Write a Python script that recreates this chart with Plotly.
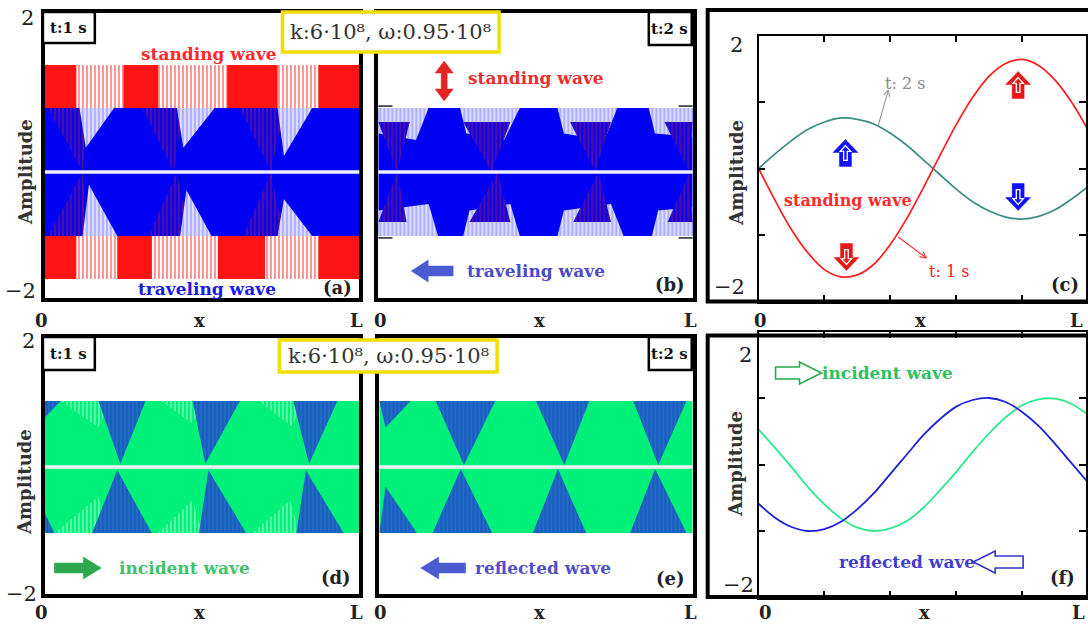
import math
import plotly.graph_objects as go

W, H = 1088, 625


def PX(x):
    return x / W


def PY(y):
    return 1 - y / H


SERIF = "DejaVu Serif"

# ---------------- data ----------------
# x positions in units of L for the smooth snapshots, panels (c) and (f)
X_L = [0.00, 0.05, 0.10, 0.15, 0.20, 0.25, 0.30, 0.35, 0.40, 0.45, 0.50,
       0.55, 0.60, 0.65, 0.70, 0.75, 0.80, 0.85, 0.90, 0.95, 1.00]
C_STANDING_T1 = [0.00, -0.48, -0.92, -1.27, -1.52, -1.63, -1.60, -1.44, -1.14, -0.75, -0.29,
                 0.19, 0.66, 1.07, 1.39, 1.58, 1.64, 1.55, 1.33, 1.00, 0.58]
C_STANDING_T2 = [0.00, 0.22, 0.42, 0.59, 0.70, 0.76, 0.74, 0.67, 0.53, 0.35, 0.13,
                 -0.09, -0.31, -0.50, -0.64, -0.73, -0.76, -0.72, -0.62, -0.46, -0.27]
F_INCIDENT = [0.53, 0.25, -0.04, -0.34, -0.60, -0.81, -0.95, -1.00, -0.96, -0.85, -0.65,
              -0.39, -0.11, 0.19, 0.47, 0.71, 0.89, 0.98, 0.99, 0.91, 0.75]
F_REFLECTED = [-0.59, -0.80, -0.94, -1.00, -0.97, -0.86, -0.67, -0.43, -0.14, 0.15, 0.44,
               0.68, 0.87, 0.97, 1.00, 0.94, 0.79, 0.58, 0.31, 0.02, -0.27]

# dense sampled panels: envelopes / regions (x in units of L, amplitude)
A_STANDING_AMP = 1.67
A_TRAVEL_AMP = 1.00
A_SOLID_TOP = [(0.00, 0.10), (0.25, 0.36), (0.58, 0.74), (0.87, 1.00)]
A_SOLID_BOT = [(0.00, 0.10), (0.23, 0.34), (0.55, 0.70), (0.87, 1.00)]
A_PURPLE = [[(0.01, 1), (0.14, 1), (0.12, 0)], [(0.31, 1), (0.44, 1), (0.41, 0)],
            [(0.62, 1), (0.76, 1), (0.72, 0)],
            [(0.01, -1), (0.14, -1), (0.12, 0)], [(0.33, -1), (0.46, -1), (0.42, 0)],
            [(0.63, -1), (0.76, -1), (0.72, 0)]]
A_LIGHT = [[(0.11, 1), (0.22, 1), (0.13, 0.38)], [(0.42, 1), (0.54, 1), (0.44, 0.38)],
           [(0.74, 1), (0.85, 1), (0.76, 0.25)],
           [(0.12, -1), (0.23, -1), (0.14, -0.20)], [(0.43, -1), (0.53, -1), (0.45, -0.28)],
           [(0.74, -1), (0.85, -1), (0.76, -0.42)]]

B_TRAVEL_AMP = 1.00
B_LIGHT = [[(0.00, 1), (0.16, 1), (0.12, 0.50), (0.00, 0.60)],
           [(0.26, 1), (0.45, 1), (0.40, 0.50), (0.28, 0.60)],
           [(0.57, 1), (0.76, 1), (0.72, 0.50), (0.59, 0.60)],
           [(0.86, 1), (1.00, 1), (1.00, 0.55), (0.88, 0.60)],
           [(0.00, -1), (0.19, -1), (0.16, -0.50), (0.00, -0.60)],
           [(0.27, -1), (0.45, -1), (0.42, -0.50), (0.29, -0.60)],
           [(0.57, -1), (0.78, -1), (0.74, -0.50), (0.59, -0.60)],
           [(0.87, -1), (1.00, -1), (1.00, -0.55), (0.89, -0.60)]]
B_PURPLE = [[(0.00, 0.78), (0.10, 0.78), (0.06, 0)], [(0.27, 0.78), (0.42, 0.78), (0.36, 0)],
            [(0.61, 0.78), (0.74, 0.78), (0.69, 0)], [(0.91, 0.78), (1.00, 0.78), (0.99, 0)],
            [(0.00, -0.78), (0.09, -0.78), (0.06, 0)], [(0.29, -0.78), (0.42, -0.78), (0.38, 0)],
            [(0.62, -0.78), (0.74, -0.78), (0.70, 0)], [(0.92, -0.78), (1.00, -0.78), (0.99, 0)]]

D_AMP = 1.00
D_DARK = [[(0.17, 1), (0.32, 1), (0.24, 0.05)], [(0.47, 1), (0.62, 1), (0.51, 0.05)],
          [(0.79, 1), (0.93, 1), (0.84, 0.05)], [(0.00, 1), (0.05, 1), (0.00, 0.75)],
          [(0.15, -1), (0.34, -1), (0.23, -0.05)], [(0.49, -1), (0.64, -1), (0.52, -0.05)],
          [(0.80, -1), (0.95, -1), (0.83, -0.05)], [(0.00, -1), (0.03, -1), (0.00, -0.70)]]
D_MINT = [[(0.05, 1), (0.21, 1), (0.17, 0.60)], [(0.37, 1), (0.50, 1), (0.47, 0.65)],
          [(0.68, 1), (0.81, 1), (0.79, 0.60)],
          [(0.03, -1), (0.20, -1), (0.17, -0.45)], [(0.36, -1), (0.50, -1), (0.47, -0.50)],
          [(0.66, -1), (0.81, -1), (0.78, -0.50)]]

E_AMP = 1.00
E_DARK = [[(0.00, 1), (0.10, 1), (0.02, 0.60)], [(0.18, 1), (0.37, 1), (0.27, 0.03)],
          [(0.50, 1), (0.67, 1), (0.59, 0.03)], [(0.81, 1), (0.98, 1), (0.89, 0.03)],
          [(0.00, -1), (0.12, -1), (0.02, -0.30)], [(0.17, -1), (0.36, -1), (0.26, -0.03)],
          [(0.49, -1), (0.66, -1), (0.57, -0.03)], [(0.80, -1), (0.98, -1), (0.88, -0.03)]]

# ---------------- styles ----------------
RED = "#ff1414"
BLUE = "#0000f2"
GREEN = "#00f07a"
PINK_PAT = ("#ff2a2a", "#ffffff", 0.5)
PURPLE_PAT = ("#9a1d5c", BLUE, 0.55)
LIGHT_PAT = ("#7c7cff", "#e2e2ff", 0.55)
DARK_PAT = ("#1440c4", "#2378c0", 0.72)
MINT_PAT = ("#b8ffdc", GREEN, 0.5)


def rect(x0, x1, y0, y1):
    return [(x0, y0), (x1, y0), (x1, y1), (x0, y1)]


def fill_trace(polys, n, color=None, pattern=None):
    xs, ys = [], []
    for poly in polys:
        for (x, y) in poly:
            xs.append(x)
            ys.append(y)
        xs.append(poly[0][0])
        ys.append(poly[0][1])
        xs.append(None)
        ys.append(None)
    suf = "" if n == 1 else str(n)
    kw = dict(x=xs, y=ys, mode="lines", line=dict(width=0), fill="toself",
              hoverinfo="skip", showlegend=False, xaxis="x" + suf, yaxis="y" + suf)
    if pattern:
        kw["fillcolor"] = pattern[1]
        kw["fillpattern"] = dict(shape="|", fgcolor=pattern[0], bgcolor=pattern[1],
                                 size=4, solidity=pattern[2])
    else:
        kw["fillcolor"] = color
    return go.Scatter(**kw)


fig = go.Figure()

# ---- (a)
fig.add_trace(fill_trace([rect(0, 1, -A_STANDING_AMP, A_STANDING_AMP)], 1, pattern=PINK_PAT))
fig.add_trace(fill_trace([rect(a, b, A_TRAVEL_AMP, A_STANDING_AMP) for a, b in A_SOLID_TOP] +
                         [rect(a, b, -A_STANDING_AMP, -A_TRAVEL_AMP) for a, b in A_SOLID_BOT], 1, color=RED))
fig.add_trace(fill_trace([rect(0, 1, -A_TRAVEL_AMP, A_TRAVEL_AMP)], 1, color=BLUE))
fig.add_trace(fill_trace(A_PURPLE, 1, pattern=PURPLE_PAT))
fig.add_trace(fill_trace(A_LIGHT, 1, pattern=LIGHT_PAT))

# ---- (b)
fig.add_trace(fill_trace([rect(0, 1, -B_TRAVEL_AMP, B_TRAVEL_AMP)], 2, color=BLUE))
fig.add_trace(fill_trace(B_LIGHT, 2, pattern=LIGHT_PAT))
fig.add_trace(fill_trace(B_PURPLE, 2, pattern=PURPLE_PAT))

# ---- (c)
fig.add_trace(go.Scatter(x=X_L, y=C_STANDING_T2, mode="lines", line=dict(color="#3c8c84", width=1.7, shape="spline"),
                         xaxis="x3", yaxis="y3", showlegend=False, hoverinfo="skip"))
fig.add_trace(go.Scatter(x=X_L, y=C_STANDING_T1, mode="lines", line=dict(color="#ff1e1e", width=1.7, shape="spline"),
                         xaxis="x3", yaxis="y3", showlegend=False, hoverinfo="skip"))

# ---- (d)
fig.add_trace(fill_trace([rect(0, 1, -D_AMP, D_AMP)], 4, color=GREEN))
fig.add_trace(fill_trace(D_MINT, 4, pattern=MINT_PAT))
fig.add_trace(fill_trace(D_DARK, 4, pattern=DARK_PAT))

# ---- (e)
fig.add_trace(fill_trace([rect(0, 1, -E_AMP, E_AMP)], 5, color=GREEN))
fig.add_trace(fill_trace(E_DARK, 5, pattern=DARK_PAT))

# ---- (f)
fig.add_trace(go.Scatter(x=X_L, y=F_INCIDENT, mode="lines", line=dict(color="#2de88c", width=1.8, shape="spline"),
                         xaxis="x6", yaxis="y6", showlegend=False, hoverinfo="skip"))
fig.add_trace(go.Scatter(x=X_L, y=F_REFLECTED, mode="lines", line=dict(color="#1f1fd8", width=1.8, shape="spline"),
                         xaxis="x6", yaxis="y6", showlegend=False, hoverinfo="skip"))

layout = dict(width=W, height=H, margin=dict(l=0, r=0, t=0, b=0),
              paper_bgcolor="white", plot_bgcolor="white", showlegend=False)


def box_axes(n, x0, x1, y0, y1, yr):
    suf = "" if n == 1 else str(n)
    common = dict(showline=True, mirror=True, linecolor="black", linewidth=4,
                  showticklabels=False, ticks="", showgrid=False, zeroline=False, fixedrange=True)
    layout["xaxis" + suf] = dict(domain=[PX(x0), PX(x1)], range=[0, 1], anchor="y" + suf, **common)
    layout["yaxis" + suf] = dict(domain=[PY(y1), PY(y0)], range=yr, anchor="x" + suf, **common)


box_axes(1, 45, 360, 13, 298, [-(298 - 172) / 64, (172 - 13) / 64])
box_axes(2, 379, 694, 13, 298, [-(298 - 172) / 64, (172 - 13) / 64])
box_axes(4, 45, 360, 338, 594, [-(594 - 467) / 66, (467 - 338) / 66])
box_axes(5, 380, 694, 338, 594, [-(594 - 467) / 66, (467 - 338) / 66])


def curve_axes(n, y_top, y_bot):
    suf = str(n)
    layout["xaxis" + suf] = dict(domain=[PX(760), 1], range=[0, 328 / 330], anchor="y" + suf,
                                 showline=True, mirror="allticks", linecolor="black", linewidth=1.5,
                                 ticks="inside", ticklen=7, tickwidth=1.5, tickcolor="black",
                                 tickvals=[0.2, 0.4, 0.6, 0.8], showticklabels=False,
                                 showgrid=False, zeroline=False, fixedrange=True)
    layout["yaxis" + suf] = dict(domain=[PY(y_bot), PY(y_top)], range=[-2, 2], anchor="x" + suf,
                                 showline=True, mirror="allticks", linecolor="black", linewidth=1.5,
                                 ticks="inside", ticklen=7, tickwidth=1.5, tickcolor="black",
                                 tickvals=[-1, 0, 1], showticklabels=False,
                                 showgrid=False, zeroline=False, fixedrange=True)


curve_axes(3, 35.5, 301.5)
curve_axes(6, 331.5, 597.5)

# ---------------- shapes ----------------
shapes = []
for suf in ["", "2", "4", "5"]:
    shapes.append(dict(type="line", xref="x%s domain" % suf, yref="y" + suf,
                       x0=0, x1=1, y0=0, y1=0, line=dict(color="#eeeeff", width=3.5), layer="above"))
# small bracket marks at the travelling-wave envelope in (b)
for yv in (1.03, -1.03):
    for (a, b) in ((0.0, 0.045), (0.955, 1.0)):
        shapes.append(dict(type="line", xref="x2 domain", yref="y2", x0=a, x1=b, y0=yv, y1=yv,
                           line=dict(color="#222", width=1.5), layer="above"))


def prect(x0, y0, x1, y1, color, width, fill="white"):
    return dict(type="rect", xref="paper", yref="paper", x0=PX(x0), x1=PX(x1), y0=PY(y1), y1=PY(y0),
                line=dict(color=color, width=width), fillcolor=fill, layer="above")


# outer frames of (c) and (f)
shapes.append(prect(709, 10, 1100, 301.5, "black", 4, fill="rgba(0,0,0,0)"))
shapes.append(prect(709, 335.5, 1100, 597, "black", 4, fill="rgba(0,0,0,0)"))
# yellow parameter boxes
shapes.append(prect(283, 12, 500, 52, "#f4de00", 3.5))
shapes.append(prect(280, 340, 498, 372, "#f4de00", 3.5))
# time boxes
shapes.append(prect(43, 12, 95, 43, "black", 2.5))
shapes.append(prect(650, 12, 693, 45, "black", 2.5))
shapes.append(prect(43, 337, 95, 370, "black", 2.5))
shapes.append(prect(650, 337, 693, 370, "black", 2.5))


def arrow_path(cx, cy, length, head_w, shaft_w, head_len, direction, double=False):
    d = {"right": (1, 0), "left": (-1, 0), "up": (0, -1), "down": (0, 1)}[direction]
    L2 = length / 2
    if double:
        pts = [(L2, 0), (L2 - head_len, head_w / 2), (L2 - head_len, shaft_w / 2),
               (-L2 + head_len, shaft_w / 2), (-L2 + head_len, head_w / 2), (-L2, 0),
               (-L2 + head_len, -head_w / 2), (-L2 + head_len, -shaft_w / 2),
               (L2 - head_len, -shaft_w / 2), (L2 - head_len, -head_w / 2)]
    else:
        pts = [(L2, 0), (L2 - head_len, head_w / 2), (L2 - head_len, shaft_w / 2),
               (-L2, shaft_w / 2), (-L2, -shaft_w / 2), (L2 - head_len, -shaft_w / 2),
               (L2 - head_len, -head_w / 2)]
    out = []
    for i, (u, v) in enumerate(pts):
        x = cx + u * d[0] - v * d[1]
        y = cy + u * d[1] + v * d[0]
        out.append(("M" if i == 0 else "L") + " %.5f,%.5f" % (PX(x), PY(y)))
    return " ".join(out) + " Z"


def block_arrow(cx, cy, length, head_w, shaft_w, head_len, direction, color, double=False,
                hollow=False, inner=False):
    res = []
    if hollow:
        res.append(dict(type="path", xref="paper", yref="paper",
                        path=arrow_path(cx, cy, length, head_w, shaft_w, head_len, direction),
                        line=dict(color=color, width=1.6), fillcolor="rgba(0,0,0,0)", layer="above"))
    else:
        res.append(dict(type="path", xref="paper", yref="paper",
                        path=arrow_path(cx, cy, length, head_w, shaft_w, head_len, direction, double),
                        line=dict(color=color, width=0.5), fillcolor=color, layer="above"))
    if inner:
        res.append(dict(type="path", xref="paper", yref="paper",
                        path=arrow_path(cx, cy, length * 0.55, head_w * 0.42, shaft_w * 0.3,
                                        head_len * 0.45, direction),
                        line=dict(color="white", width=1.3), fillcolor="rgba(0,0,0,0)", layer="above"))
    return res


def pointer(x0, y0, x1, y1, color):
    """thin line from (x0,y0) to (x1,y1) with an open chevron head at (x1,y1), pixel coords"""
    ang = math.atan2(y1 - y0, x1 - x0)
    hl = 7
    res = [dict(type="line", xref="paper", yref="paper", x0=PX(x0), y0=PY(y0), x1=PX(x1), y1=PY(y1),
                line=dict(color=color, width=1.1), layer="above")]
    for s in (-1, 1):
        a = ang + math.pi + s * 0.45
        res.append(dict(type="line", xref="paper", yref="paper", x0=PX(x1), y0=PY(y1),
                        x1=PX(x1 + hl * math.cos(a)), y1=PY(y1 + hl * math.sin(a)),
                        line=dict(color=color, width=1.1), layer="above"))
    return res


shapes += block_arrow(445, 81, 40, 18, 6, 12, "up", "#e42424", double=True)
shapes += block_arrow(433, 271, 42, 22, 10, 17, "left", "#4a5bd0")
shapes += block_arrow(78, 568, 47, 22, 10, 18, "right", "#2ea84e")
shapes += block_arrow(444, 568, 45, 22, 10, 18, "left", "#4a5bd0")
shapes += block_arrow(847, 153, 27, 25, 12, 13, "up", "#1010ff", inner=True)
shapes += block_arrow(848, 257, 27, 25, 12, 13, "down", "#e81818", inner=True)
shapes += block_arrow(1020, 85, 27, 25, 12, 13, "up", "#e81818", inner=True)
shapes += block_arrow(1020, 197, 27, 25, 12, 13, "down", "#1010ff", inner=True)
shapes += block_arrow(800, 373, 46, 22, 12, 22, "right", "#2aa850", hollow=True)
shapes += block_arrow(1000, 562, 50, 22, 12, 22, "left", "#3434c8", hollow=True)
shapes += pointer(880, 125, 890, 90, "#999999")
shapes += pointer(900, 237, 928, 258, "#ff3030")

layout["shapes"] = shapes

# ---------------- annotations ----------------
ann = []


def txt(x, y, s, size, color="black", bold=False, angle=0, family=SERIF):
    ann.append(dict(x=PX(x), y=PY(y), xref="paper", yref="paper",
                    text=("<b>%s</b>" % s) if bold else s, showarrow=False,
                    font=dict(family=family, size=size, color=color),
                    xanchor="center", yanchor="middle", textangle=angle))


# y tick labels
txt(28, 18, "2", 21, "#222")
txt(21, 291, "\u22122", 21, "#222")
txt(29, 341, "2", 21, "#222")
txt(22, 594, "\u22122", 21, "#222")
txt(738, 45, "2", 21, "#222")
txt(731, 287, "\u22122", 21, "#222")
txt(747, 355, "2", 21, "#222")
txt(740, 585, "\u22122", 21, "#222")
# Amplitude labels
for (x, y) in [(25, 172), (24, 482), (738, 173), (737, 464)]:
    txt(x, y, "Amplitude", 18, "#333", bold=True, angle=-90)
# x labels
for (x0, xm, xl, y) in [(42, 200, 357, 321), (381, 540, 692, 321), (762, 922, 1078, 321),
                         (42, 200, 357, 612), (381, 540, 692, 612), (767, 926, 1080, 612)]:
    txt(x0, y, "0", 18, "#222", bold=True)
    txt(xm, y, "x", 18, "#222", bold=True)
    txt(xl, y, "L", 18, "#222", bold=True)
# panel letters
for (x, y, s) in [(338, 287, "(a)"), (671, 284, "(b)"), (1067, 284, "(c)"),
                  (337, 577, "(d)"), (672, 578, "(e)"), (1064, 577, "(f)")]:
    txt(x, y, s, 18, "#222", bold=True)
# time labels
txt(69, 28, "t:1 s", 15, "#111", bold=True)
txt(671, 29, "t:2 s", 15, "#111", bold=True)
txt(69, 354, "t:1 s", 15, "#111", bold=True)
txt(671, 354, "t:2 s", 15, "#111", bold=True)
# parameter boxes
par = "k:6\u00b710\u2078, \u03c9:0.95\u00b710\u2078"
txt(391, 32, par, 21, "#333")
txt(389, 356, par, 21, "#333")
# wave names
txt(209, 54, "standing wave", 17, "#ff2a2a", bold=True)
txt(207, 289, "traveling wave", 17, "#1a1ae6", bold=True)
txt(537, 78, "standing wave", 17, "#e83030", bold=True)
txt(537, 271, "traveling wave", 17, "#4b4bc8", bold=True)
txt(850, 200, "standing wave", 16, "#ff2a2a", bold=True)
txt(907, 83, "t: 2 s", 16, "#8a8a8a")
txt(951, 271, "t: 1 s", 16, "#ff2020")
txt(185, 568, "incident wave", 17, "#3cc46a", bold=True)
txt(544, 568, "reflected wave", 17, "#5050c8", bold=True)
txt(889, 373, "incident wave", 17, "#2fc060", bold=True)
txt(909, 562, "reflected wave", 17, "#4040d0", bold=True)

layout["annotations"] = ann
fig.update_layout(**layout)
fig.write_html("out.html")
